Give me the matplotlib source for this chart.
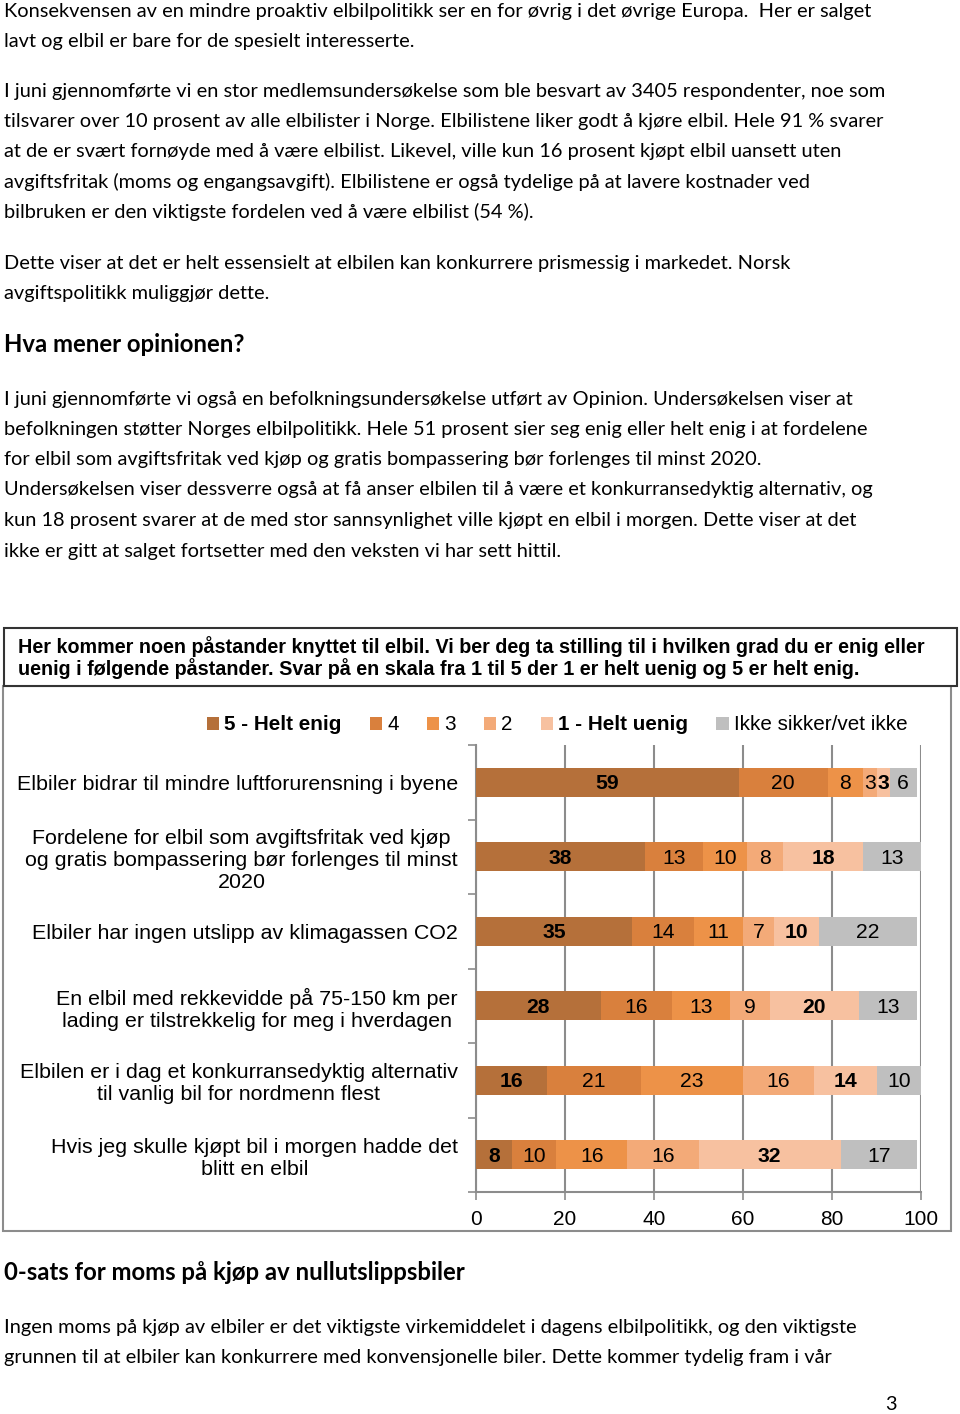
import matplotlib
matplotlib.use('Agg')
import matplotlib.pyplot as plt
import numpy as np
from matplotlib.patches import Rectangle

# ---- data ----
categories = ['Elbiler bidrar til mindre luftforurensning i byene',
              'Fordelene for elbil som avgiftsfritak ved kjøp\nog gratis bompassering bør forlenges til minst\n2020',
              'Elbiler har ingen utslipp av klimagassen CO2',
              'En elbil med rekkevidde på 75-150 km per\nlading er tilstrekkelig for meg i hverdagen',
              'Elbilen er i dag et konkurransedyktig alternativ\ntil vanlig bil for nordmenn flest',
              'Hvis jeg skulle kjøpt bil i morgen hadde det\nblitt en elbil']
series_names = ['5 - Helt enig', '4', '3', '2', '1 - Helt uenig', 'Ikke sikker/vet ikke']
helt_enig = [59, 38, 35, 28, 16, 8]
enig4 = [20, 13, 14, 16, 21, 10]
noytral3 = [8, 10, 11, 13, 23, 16]
uenig2 = [3, 8, 7, 9, 16, 16]
helt_uenig = [3, 18, 10, 20, 14, 32]
vet_ikke = [6, 13, 22, 13, 10, 17]
x_ticks = [0, 20, 40, 60, 80, 100]

colors = ['#B5703A', '#D9803D', '#ED9248', '#F3AA78', '#F7C1A0', '#BFBFBF']
bold_series = [True, False, False, False, True, False]

W, H = 960, 1414
fig = plt.figure(figsize=(W / 100, H / 100), dpi=100)

def fy(y):
    return 1 - y / H

def fx(x):
    return x / W

body_font = 'Lato'
chart_font = 'Liberation Sans'

body_lines = [
    (11, "Konsekvensen av en mindre proaktiv elbilpolitikk ser en for øvrig i det øvrige Europa.  Her er salget"),
    (41, "lavt og elbil er bare for de spesielt interesserte."),
    (91, "I juni gjennomførte vi en stor medlemsundersøkelse som ble besvart av 3405 respondenter, noe som"),
    (121, "tilsvarer over 10 prosent av alle elbilister i Norge. Elbilistene liker godt å kjøre elbil. Hele 91 % svarer"),
    (151, "at de er svært fornøyde med å være elbilist. Likevel, ville kun 16 prosent kjøpt elbil uansett uten"),
    (182, "avgiftsfritak (moms og engangsavgift). Elbilistene er også tydelige på at lavere kostnader ved"),
    (212, "bilbruken er den viktigste fordelen ved å være elbilist (54 %)."),
    (263, "Dette viser at det er helt essensielt at elbilen kan konkurrere prismessig i markedet. Norsk"),
    (293, "avgiftspolitikk muliggjør dette."),
    (399, "I juni gjennomførte vi også en befolkningsundersøkelse utført av Opinion. Undersøkelsen viser at"),
    (429, "befolkningen støtter Norges elbilpolitikk. Hele 51 prosent sier seg enig eller helt enig i at fordelene"),
    (460, "for elbil som avgiftsfritak ved kjøp og gratis bompassering bør forlenges til minst 2020."),
    (490, "Undersøkelsen viser dessverre også at få anser elbilen til å være et konkurransedyktig alternativ, og"),
    (520, "kun 18 prosent svarer at de med stor sannsynlighet ville kjøpt en elbil i morgen. Dette viser at det"),
    (551, "ikke er gitt at salget fortsetter med den veksten vi har sett hittil."),
    (1327, "Ingen moms på kjøp av elbiler er det viktigste virkemiddelet i dagens elbilpolitikk, og den viktigste"),
    (1357, "grunnen til at elbiler kan konkurrere med konvensjonelle biler. Dette kommer tydelig fram i vår"),
]
for y, t in body_lines:
    fig.text(fx(4), fy(y), t, fontsize=14.45, family=body_font, va='center', ha='left')

fig.text(fx(4), fy(345), 'Hva mener opinionen?', fontsize=17.2, family=body_font,
         weight='bold', va='center')
fig.text(fx(4), fy(1273), '0-sats for moms på kjøp av nullutslippsbiler', fontsize=17.2,
         family=body_font, weight='bold', va='center')
fig.text(fx(885), fy(1405), '3', fontsize=14.45, family=body_font, va='center')

# frames
fig.patches.append(Rectangle((fx(3), fy(1231)), fx(948), (1231 - 686) / H,
                             transform=fig.transFigure, fill=False,
                             edgecolor='#8C8C8C', lw=1.5))
fig.patches.append(Rectangle((fx(4), fy(686)), fx(953), (686 - 628) / H,
                             transform=fig.transFigure, facecolor='white',
                             edgecolor='#333333', lw=1.5))
fig.text(fx(18), fy(647), 'Her kommer noen påstander knyttet til elbil. Vi ber deg ta stilling til i hvilken grad du er enig eller',
         fontsize=14.2, weight='bold', family=chart_font, va='center')
fig.text(fx(18), fy(669), 'uenig i følgende påstander. Svar på en skala fra 1 til 5 der 1 er helt uenig og 5 er helt enig.',
         fontsize=14.2, weight='bold', family=chart_font, va='center')

# chart
ax = fig.add_axes([fx(476), fy(1192), fx(445), (1192 - 745) / H])
series = [helt_enig, enig4, noytral3, uenig2, helt_uenig, vet_ikke]
ypos = np.arange(len(categories))
left = np.zeros(len(categories))
for vals, name, col, bold in zip(series, series_names, colors, bold_series):
    vals = np.array(vals, dtype=float)
    bars = ax.barh(ypos, vals, left=left, height=0.39, color=col, label=name, zorder=3)
    for b, v in zip(bars, vals):
        ax.text(b.get_x() + b.get_width() / 2, b.get_y() + b.get_height() / 2 + 0.02,
                '%d' % v, ha='center', va='center', fontsize=15.2, family=chart_font,
                weight='bold' if bold else 'normal', zorder=4)
    left += vals

ax.set_xlim(0, 100)
ax.set_ylim(len(categories) - 0.5, -0.5)
ax.set_xticks(x_ticks)
ax.set_xticklabels([str(v) for v in x_ticks], fontsize=15, family=chart_font)
ax.set_yticks(ypos)
ax.set_yticklabels(categories, fontsize=15.4, family=chart_font, linespacing=1.2,
                   multialignment='center')
ax.set_yticks(np.arange(-0.5, len(categories)), minor=True)
ax.tick_params(axis='y', which='major', length=0, pad=13)
ax.tick_params(axis='y', which='minor', length=6, color='#8C8C8C', width=1.2)
ax.tick_params(axis='x', length=6, color='#8C8C8C', width=1.2, pad=7)
ax.xaxis.grid(True, color='#8C8C8C', lw=1.5, zorder=0)
ax.set_axisbelow(True)
for s in ['top', 'right']:
    ax.spines[s].set_visible(False)
for s in ['left', 'bottom']:
    ax.spines[s].set_color('#8C8C8C')
    ax.spines[s].set_linewidth(1.5)

leg = ax.legend(loc='center', bbox_to_anchor=(fx(557), fy(725)),
                bbox_transform=fig.transFigure, ncol=6, frameon=False,
                prop={'family': chart_font, 'size': 14.9},
                handlelength=0.6, handleheight=0.6, handletextpad=0.25,
                columnspacing=1.35)
for i, t in enumerate(leg.get_texts()):
    if bold_series[i]:
        t.set_fontweight('bold')

fig.savefig('out.png', dpi=100)
